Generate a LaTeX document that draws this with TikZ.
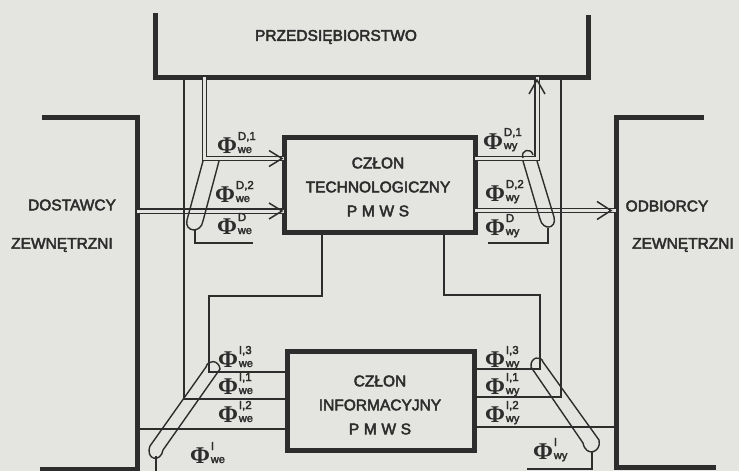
\documentclass[tikz,border=0pt]{standalone}
\usepackage{fontspec}
\setmainfont[FakeBold=3]{Liberation Sans}
\newfontfamily\phifont{Liberation Serif Bold}
\usetikzlibrary{calc}
\definecolor{paper}{RGB}{228,228,224}
\definecolor{ink}{RGB}{45,45,45}
\newcommand\flab[2]{\hbox{{\phifont\fontsize{24}{24}\selectfont Φ}\kern0.8pt\makebox[0pt][l]{\raisebox{13pt}{\fontsize{11.5}{11.5}\selectfont #1}}{\fontsize{11}{11}\selectfont #2}}}
\newcommand\spaced[1]{{\addfontfeatures{LetterSpace=30}#1}}
\begin{document}
\begin{tikzpicture}[x=1pt,y=-1pt,
 heavy/.style={draw=ink,line width=5pt},
 wire/.style={draw=ink,line width=1.7pt},
 tube/.style={draw=ink,line width=1.4pt},
 dbl/.style={draw=ink,line width=1.3pt,double=paper,double distance=3pt},
 chev/.style={draw=ink,line width=1.5pt},
 box/.style={draw=ink,line width=5pt,inner sep=0pt},
 lbl/.style={text=ink,font=\fontsize{15.5}{18}\selectfont,inner sep=0pt},
 boxtext/.style={text=ink,align=center,inner sep=0pt,font=\fontsize{15.5}{24}\selectfont},
 phi/.style={anchor=base west,inner sep=0pt,text=ink}]
\useasboundingbox (0,0) rectangle (739,471);
\fill[paper] (0,0) rectangle (739,471);

% brackets
\draw[heavy] (155,13) -- (155,77) -- (588,77) -- (588,15);
\draw[heavy] (42,117) -- (137,117) -- (137,469) -- (40,469);
\draw[heavy] (704,117) -- (616,117) -- (616,467) -- (716,467);

% texts
\node[lbl] (przed) at (336,37) {PRZEDSIĘBIORSTWO};
\node[lbl] (dost) at (72,205) {DOSTAWCY};
\node[lbl] (zewL) at (62,245) {ZEWNĘTRZNI};
\node[lbl] (odb) at (667,206) {ODBIORCY};
\node[lbl] (zewR) at (683,245) {ZEWNĘTRZNI};

% boxes
\node[box,minimum width=191pt,minimum height=95pt] (tech) at (379.5,184.5) {};
\node[boxtext] (techtxt) at (378,187) {CZŁON\\TECHNOLOGICZNY\\\spaced{PMWS}};
\node[box,minimum width=187pt,minimum height=99pt] (info) at (380.5,401) {};
\node[boxtext] (infotxt) at (380,405) {CZŁON\\INFORMACYJNY\\\spaced{PMWS}};

% junction coordinates
\coordinate (d1top) at (204.5,77);
\coordinate (d1end) at (284,158.5);
\coordinate (d2beg) at (137,211);
\coordinate (d2end) at (284,211);
\coordinate (w1beg) at (475,158.5);
\coordinate (w1top) at (537,77);
\coordinate (w2beg) at (475,210.5);
\coordinate (w2end) at (616,210.5);
\coordinate (outL) at (184,77);
\coordinate (i1L) at (287,399);
\coordinate (outR) at (561,77);
\coordinate (i1R) at (474,397);
\coordinate (tbL) at (322,232);
\coordinate (kL) at (209,296);
\coordinate (i3L) at (287,372);
\coordinate (tbR) at (444,232);
\coordinate (kR) at (540,295);
\coordinate (i3R) at (474,369);
\coordinate (i2Lb) at (137,429);
\coordinate (i2L) at (287,429);
\coordinate (i2R) at (474,427);
\coordinate (i2Re) at (616,427);
\coordinate (uL) at (195,229);
\coordinate (dweE) at (253,243);
\coordinate (uR) at (548,228);
\coordinate (dwyE) at (488,243);
\coordinate (bL) at (156,456);
\coordinate (bLe) at (156,471);
\coordinate (bR) at (592,452);
\coordinate (iwyE) at (527,469);

% double (material) flows
\draw[dbl] (d1top) |- (d1end);
\draw[dbl] (d2beg) -- (d2end);
\draw[dbl] (w1beg) -| (w1top);
\draw[dbl] (w2beg) -- (w2end);

% arrow heads
\draw[chev] ($(d1end)+(-15,-8)$) -- ($(d1end)+(-2,0)$) -- ($(d1end)+(-15,8)$);
\draw[chev] ($(d2end)+(-15,-8)$) -- ($(d2end)+(-2,0)$) -- ($(d2end)+(-15,8)$);
\draw[chev] ($(w2end)+(-19,-9)$) -- ($(w2end)+(-5,0)$) -- ($(w2end)+(-19,9)$);
\draw[chev] ($(w1top)+(-8,17)$) -- ($(w1top)+(0,3)$) -- ($(w1top)+(8,17)$);

% information flows
\draw[wire] (outL) |- (i1L);
\draw[wire] (outR) |- (i1R);
\draw[wire] (tbL) |- (kL) |- (i3L);
\draw[wire] (tbR) |- (kR) |- (i3R);
\draw[wire] (i2Lb) -- (i2L);
\draw[wire] (i2R) -- (i2Re);
\draw[wire] (uL) |- (dweE);
\draw[wire] (uR) |- (dwyE);
\draw[wire] (bL) -- (bLe);
\draw[wire] (bR) |- (iwyE);

% collecting tubes
\draw[tube] (203,161) -- (187,220) .. controls (184,232) and (201,234) .. (203,221) -- (219,161);
\draw[tube] (523,161) -- (540,219) .. controls (543,231) and (557,229) .. (554,217) -- (537,161);
\draw[tube] (523,158) .. controls (520,150) and (531,147) .. (533,155);
\draw[tube] (220,369) .. controls (219,360) and (208,359) .. (206,367) -- (150,446)
   .. controls (145,460) and (161,463) .. (163,450) -- cycle;
\draw[tube] (531,367) .. controls (530,357) and (541,355) .. (543,362) -- (599,440)
   .. controls (602,452) and (586,458) .. (583,443) -- cycle;

% flow labels
\node[phi] (fD1we) at (217,153) {\flab{D,1}{we}};
\node[phi] (fD2we) at (215,202) {\flab{D,2}{we}};
\node[phi] (fDwe) at (217,234) {\flab{D}{we}};
\node[phi] (fD1wy) at (483,149) {\flab{D,1}{wy}};
\node[phi] (fD2wy) at (485,201) {\flab{D,2}{wy}};
\node[phi] (fDwy) at (485,235) {\flab{D}{wy}};
\node[phi] (fI3we) at (218,367) {\flab{I,3}{we}};
\node[phi] (fI1we) at (218,394) {\flab{I,1}{we}};
\node[phi] (fI2we) at (218,422) {\flab{I,2}{we}};
\node[phi] (fIwe) at (190,463) {\flab{I}{we}};
\node[phi] (fI3wy) at (485,367) {\flab{I,3}{wy}};
\node[phi] (fI1wy) at (485,394) {\flab{I,1}{wy}};
\node[phi] (fI2wy) at (485,422) {\flab{I,2}{wy}};
\node[phi] (fIwy) at (533,459) {\flab{I}{wy}};
\end{tikzpicture}
\end{document}
